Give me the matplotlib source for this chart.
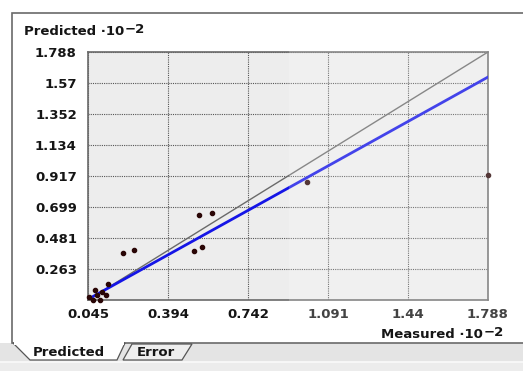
import numpy as np
import matplotlib
matplotlib.use('Agg')
import matplotlib.pyplot as plt
from matplotlib.patches import Rectangle, Polygon

plt.rcParams['font.family'] = ['DejaVu Sans']

# axis ticks (values in units of 10^-2)
x_ticks = [0.045, 0.394, 0.742, 1.091, 1.44, 1.788]
y_ticks = [0.263, 0.481, 0.699, 0.917, 1.134, 1.352, 1.57, 1.788]
x_labels = ['0.045', '0.394', '0.742', '1.091', '1.44', '1.788']
y_labels = ['0.263', '0.481', '0.699', '0.917', '1.134', '1.352', '1.57', '1.788']
axis_min, axis_max = 0.045, 1.788

# measured vs predicted samples
measured = [0.049, 0.076, 0.084, 0.097, 0.123, 0.132, 0.106, 0.067,
            0.198, 0.245, 0.529, 0.585, 0.507, 0.542, 0.999, 1.788]
predicted = [0.066, 0.115, 0.080, 0.045, 0.080, 0.157, 0.101, 0.045,
             0.375, 0.396, 0.642, 0.656, 0.389, 0.417, 0.874, 0.922]

# fitted regression line end points
fit_x = [0.045, 1.788]
fit_y = [0.050, 1.612]

W, H = 523, 371
fig = plt.figure(figsize=(W / 100, H / 100), dpi=100)
fig.patch.set_facecolor('white')


def fx(px):
    return px / W


def fy(py):
    return 1 - py / H


def rect(x0, y0, x1, y1, **kw):
    fig.add_artist(Rectangle((fx(x0), fy(y1)), fx(x1) - fx(x0), fy(y0) - fy(y1),
                             transform=fig.transFigure, **kw))


def poly(pts, **kw):
    fig.add_artist(Polygon([(fx(a), fy(b)) for a, b in pts], closed=True,
                           transform=fig.transFigure, **kw))


# window chrome: bottom strip, panel and tabs
rect(0, 343, W, 371, facecolor='#e4e4e4', edgecolor='none', zorder=-3)
rect(0, 362, W, 371, facecolor='#ececec', edgecolor='none', zorder=-3)
fig.add_artist(plt.Line2D([0, 1], [fy(362), fy(362)], color='#fafafa', lw=1.2,
                          transform=fig.transFigure, zorder=-2))
rect(12, 13, W + 5, 343, facecolor='white', edgecolor='#6a6a6a', lw=1.2, zorder=-2)
poly([(123, 360), (132, 344), (192, 344), (182, 360)],
     facecolor='#eeeeee', edgecolor='#555555', lw=0.9, zorder=-1)
poly([(13, 343), (30, 360), (117, 360), (125, 343)],
     facecolor='white', edgecolor='#555555', lw=0.9, zorder=-1)
rect(13.6, 341.5, 124, 344.5, facecolor='white', edgecolor='none', zorder=-1)

label_font = dict(fontsize=9.5, fontweight='bold', color='#151515')
fig.text(fx(33), fy(353), 'Predicted', va='center', ha='left', **label_font)
fig.text(fx(137), fy(353), 'Error', va='center', ha='left', **label_font)

ax = fig.add_axes([fx(88), fy(300), fx(488) - fx(88), fy(52) - fy(300)])
ax.set_facecolor('#ededed')
ax.set_xlim(axis_min, axis_max)
ax.set_ylim(axis_min, axis_max)
ax.set_xticks(x_ticks)
ax.set_xticklabels(x_labels, **label_font)
ax.set_yticks(y_ticks)
ax.set_yticklabels(y_labels, **label_font)
ax.tick_params(length=0)
ax.tick_params(axis='y', pad=8)
ax.tick_params(axis='x', pad=6)
for s in ax.spines.values():
    s.set_color('#6a6a6a')
    s.set_linewidth(1.2)
ax.grid(True, color='#555555', linestyle=(0, (1, 1)), linewidth=0.8)
ax.set_axisbelow(True)

ax.plot([axis_min, axis_max], [axis_min, axis_max], color='#6a6a6a', lw=1.0, zorder=3)
ax.plot(fit_x, fit_y, color='#1515e6', lw=2.0, zorder=4)
ax.scatter(measured, predicted, s=9, color='#2a0606', zorder=5, clip_on=False)


def scaled_label(x, y, text):
    # axis caption with a raised exponent
    t = fig.text(fx(x), fy(y), text + ' ·10', va='baseline', ha='left', **label_font)
    fig.add_artist(plt.Annotation('\u22122', xy=(1, 0), xycoords=t,
                                  xytext=(0.5, 3.5), textcoords='offset points',
                                  va='baseline', ha='left', **label_font))


scaled_label(24, 35, 'Predicted')
scaled_label(381, 338, 'Measured')

# faded right-hand part of the panel
rect(289, 14, W, 333, facecolor='white', edgecolor='none', alpha=0.2, zorder=2)

fig.savefig('out.png', dpi=100)
